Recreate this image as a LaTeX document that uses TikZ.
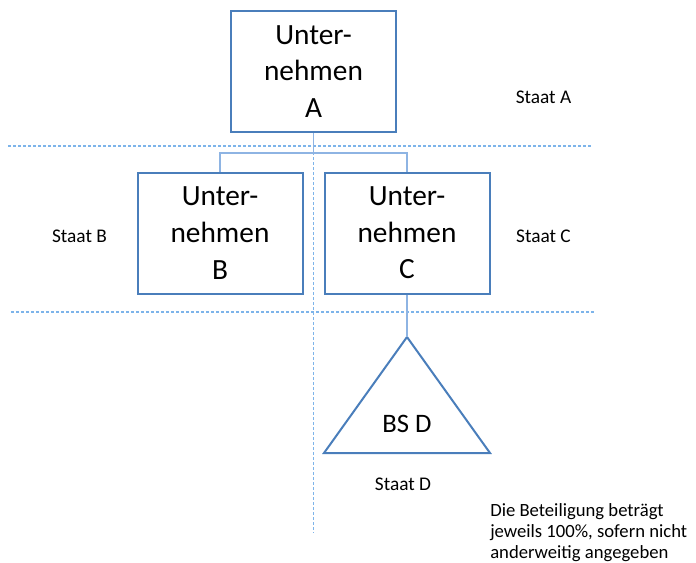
\documentclass[tikz,border=0pt]{standalone}
\usepackage{fontspec}
\setmainfont{Carlito}
\usepackage{tikz}
\usetikzlibrary{calc}
\definecolor{boxblue}{HTML}{4A7EBB}
\definecolor{connblue}{HTML}{8EB4E3}
\definecolor{sepblue}{HTML}{7DB4EA}

\begin{document}
\begin{tikzpicture}[x=0.75pt,y=-0.75pt,
	firma/.style={draw=boxblue,line width=1.5pt,minimum width=123.75pt,minimum height=90.75pt,align=center,font=\fontsize{22}{27.5}\selectfont},
	verbindung/.style={draw=connblue,line width=1pt},
	grenze/.style={draw=sepblue,line width=0.9pt,dash pattern=on 2.25pt off 1.5pt},
	staat/.style={font=\fontsize{14.5}{17}\selectfont}]
	\useasboundingbox (0,0) rectangle (696,562);
	% Grenzen zwischen den Staaten
	\draw[grenze] (8,146) -- (593,146);
	\draw[grenze] (11,312) -- (596,312);
	\draw[grenze] (313.5,132) -- (313.5,533);
	% Unternehmen
	\node[firma] (A) at (313.5,71.5) {Unter-\\nehmen\\A};
	\node[firma] (B) at (220,233) {Unter-\\nehmen\\B};
	\node[firma] (C) at (407,233) {Unter-\\nehmen\\C};
	\coordinate (knoten) at (313.5,153);
	\draw[verbindung] (A.south) -- (knoten);
	\draw[verbindung] (B.north) |- (knoten) -| (C.north);
	% Betriebsstaette
	\coordinate (D top) at (407,337);
	\coordinate (D left) at (324,453);
	\coordinate (D right) at (490,453);
	\draw[boxblue,line width=1.5pt,line join=miter] (D top) -- (D right) -- (D left) -- cycle;
	\node[font=\fontsize{20}{24}\selectfont] (D) at (407,424) {BS D};
	\draw[verbindung] (C.south) -- (D top);
	% Staaten
	\node[staat] (staat A) at (543.5,97) {Staat A};
	\node[staat] (staat B) at (79.5,236) {Staat B};
	\node[staat] (staat C) at (543.5,236.5) {Staat C};
	\node[staat] (staat D) at (403,484.5) {Staat D};
	\node[anchor=north west,inner sep=0pt,align=left,font=\fontsize{14}{16}\selectfont] (hinweis) at (490,503) {Die Beteiligung beträgt\\jeweils 100\%, sofern nicht\\anderweitig angegeben};
\end{tikzpicture}
\end{document}
